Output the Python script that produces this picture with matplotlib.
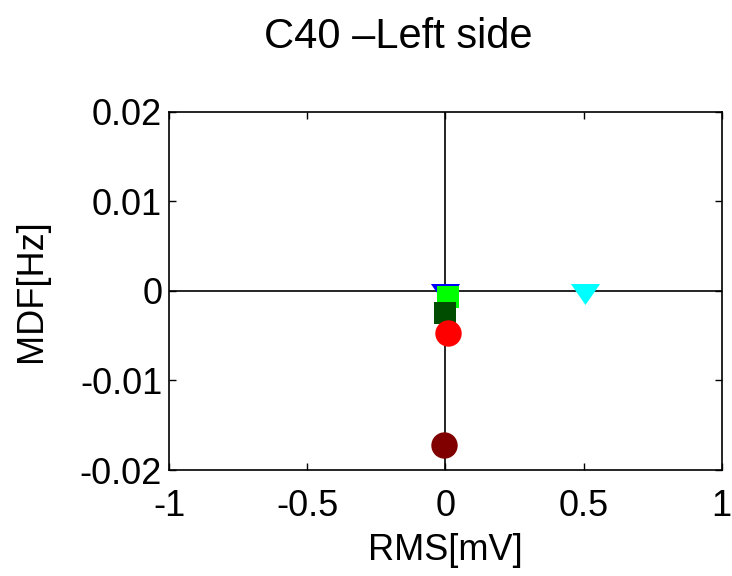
import matplotlib
matplotlib.use("Agg")
import matplotlib.pyplot as plt

plt.rcParams['font.family'] = ['Liberation Sans', 'DejaVu Sans']

# RMS [mV] and MDF [Hz] changes per measurement
labels = ["blue_tri", "green_sq", "dkgreen_sq", "red_circ", "dkred_circ", "cyan_tri"]
rms = [0.0, 0.008, 0.0, 0.009, -0.004, 0.505]
mdf = [-0.0004, -0.0007, -0.0025, -0.0047, -0.0172, -0.0004]
markers = ["tri", "s", "s", "o", "o", "tri"]
colors = ["#0000ff", "#00ff00", "#004d00", "#ff0000", "#800000", "#00ffff"]
sizes = [21, 16.5, 16.5, 19, 19, 21]

tri_down = [(-1, 0.72), (1, 0.72), (0, -0.72), (-1, 0.72)]

fig = plt.figure(figsize=(7.32, 5.76), dpi=100)
ax = fig.add_axes([0.231, 0.184, 0.755, 0.622])

ax.axhline(0, color='black', lw=1.2, zorder=1)
ax.axvline(0, color='black', lw=1.2, zorder=1)

for x, y, m, c, s in zip(rms, mdf, markers, colors, sizes):
    mk = tri_down if m == "tri" else m
    ax.plot([x], [y], linestyle='none', marker=mk, color=c, markersize=s,
            markeredgewidth=0, zorder=2)

ax.set_xlim(-1, 1)
ax.set_ylim(-0.02, 0.02)
ax.set_xticks([-1, -0.5, 0, 0.5, 1])
ax.set_xticklabels(["-1", "-0.5", "0", "0.5", "1"])
ax.set_yticks([-0.02, -0.01, 0, 0.01, 0.02])
ax.set_yticklabels(["-0.02", "-0.01", "0", "0.01", "0.02"])
ax.tick_params(direction='in', top=True, right=True, labelsize=26, length=5, width=1)
ax.tick_params(axis='x', pad=14)
ax.tick_params(axis='y', pad=5)
for sp in ax.spines.values():
    sp.set_linewidth(1.2)

ax.set_xlabel("RMS[mV]", fontsize=26, labelpad=6)
ax.set_ylabel("MDF[Hz]", fontsize=26, labelpad=22)
fig.text(398 / 732, 1 - 37 / 576, "C40 \u2013Left side", fontsize=30,
         ha='center', va='center')

fig.savefig("out.png", dpi=100)
